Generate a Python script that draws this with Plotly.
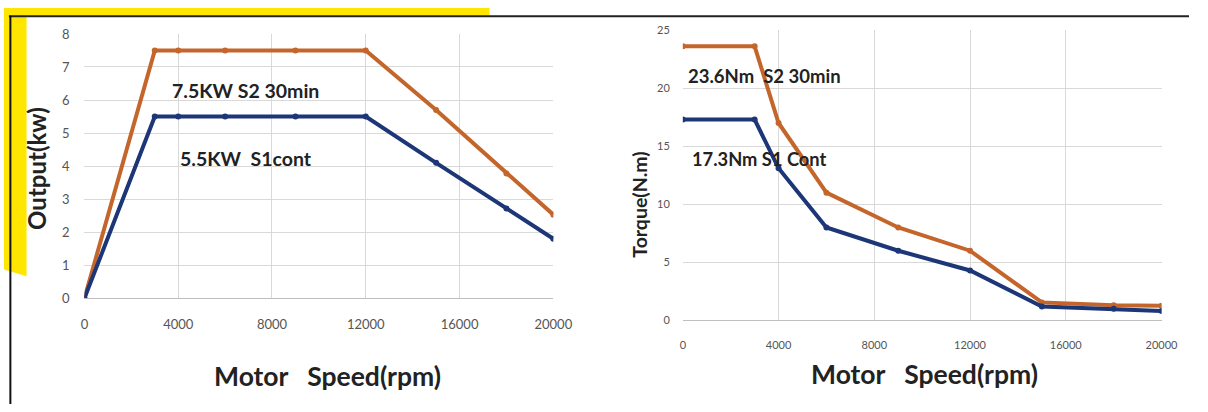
import plotly.graph_objects as go

W, H = 1208, 412

# ---- data ----
speed = [0, 3000, 4000, 6000, 9000, 12000, 15000, 18000, 20000]
output_s2 = [0, 7.5, 7.5, 7.5, 7.5, 7.5, 5.7, 3.78, 2.53]
output_s1 = [0, 5.5, 5.5, 5.5, 5.5, 5.5, 4.1, 2.72, 1.8]
torque_speed = [0, 3000, 4000, 6000, 9000, 12000, 15000, 18000, 20000]
torque_s2 = [23.6, 23.6, 17.0, 11.0, 8.0, 6.0, 1.55, 1.3, 1.25]
torque_s1 = [17.3, 17.3, 13.1, 8.0, 6.0, 4.3, 1.2, 1.0, 0.8]
x_ticks = [0, 4000, 8000, 12000, 16000, 20000]
x_tick_text = ["0", "4000", "8000", "12000", "16000", "20000"]
out_ticks = [0, 1, 2, 3, 4, 5, 6, 7, 8]
torque_ticks = [0, 5, 10, 15, 20, 25]

ORANGE = "#c4662c"
BLUE = "#1d3678"
FONT = "Lato"


def px(x):
    return x / W


def py(y):
    return 1 - y / H


fig = go.Figure()

marker = dict(size=6, symbol="circle")
fig.add_trace(go.Scatter(x=speed, y=output_s2, mode="lines+markers", line=dict(color=ORANGE, width=4),
                         marker=dict(color=ORANGE, **marker), xaxis="x", yaxis="y", showlegend=False))
fig.add_trace(go.Scatter(x=speed, y=output_s1, mode="lines+markers", line=dict(color=BLUE, width=4),
                         marker=dict(color=BLUE, **marker), xaxis="x", yaxis="y", showlegend=False))
fig.add_trace(go.Scatter(x=torque_speed, y=torque_s2, mode="lines+markers", line=dict(color=ORANGE, width=4),
                         marker=dict(color=ORANGE, **marker), xaxis="x2", yaxis="y2", showlegend=False))
fig.add_trace(go.Scatter(x=torque_speed, y=torque_s1, mode="lines+markers", line=dict(color=BLUE, width=4),
                         marker=dict(color=BLUE, **marker), xaxis="x2", yaxis="y2", showlegend=False))

grid = "#d9d9d9"
tf_left = dict(family=FONT, size=13, color="#555555")
tf_right = dict(family=FONT, size=11, color="#555555")
axis_common = dict(showgrid=True, gridcolor=grid, gridwidth=1, zeroline=False, ticks="")

fig.update_layout(
    width=W, height=H,
    margin=dict(l=0, r=0, t=0, b=0),
    paper_bgcolor="white", plot_bgcolor="white",
    font=dict(family=FONT),
    xaxis=dict(domain=[px(82), px(560)], range=[0, 20000], tickvals=x_ticks, ticktext=x_tick_text,
               anchor="y", ticklabelstandoff=14, tickfont=tf_left, showline=True, linecolor="#bfbfbf",
               **axis_common),
    yaxis=dict(domain=[py(302), py(27)], range=[0, 8], tickvals=out_ticks, anchor="x",
               ticklabelstandoff=14, tickfont=tf_left, showline=False, **axis_common),
    xaxis2=dict(domain=[px(692), px(1180)], range=[0, 20000], tickvals=x_ticks, ticktext=x_tick_text,
                anchor="y2", ticklabelstandoff=14, tickfont=tf_right, showline=True, linecolor="#bfbfbf",
                **axis_common),
    yaxis2=dict(domain=[py(325), py(23)], range=[0, 25], tickvals=torque_ticks, anchor="x2",
                ticklabelstandoff=12, tickfont=tf_right, showline=False, **axis_common),
)

shapes = []
# yellow decorations
shapes.append(dict(type="rect", xref="paper", yref="paper", x0=0, x1=px(495), y0=py(8), y1=1,
                   fillcolor="#ffe600", line=dict(width=0), layer="below"))
left_band = f"M {px(0)} {py(0)} L {px(23)} {py(0)} L {px(23)} {py(279)} L {px(0)} {py(272)} Z"
shapes.append(dict(type="path", xref="paper", yref="paper", path=left_band,
                   fillcolor="#ffe600", line=dict(width=0), layer="below"))
# black frame lines
shapes.append(dict(type="line", xref="paper", yref="paper", x0=px(5), x1=1, y0=py(8.5), y1=py(8.5),
                   line=dict(color="#222222", width=2)))
shapes.append(dict(type="line", xref="paper", yref="paper", x0=px(6.5), x1=px(6.5), y0=py(8), y1=0,
                   line=dict(color="#111111", width=2)))
fig.update_layout(shapes=shapes)

ann = []
txt = dict(family=FONT, color="#222222")


def add_text(text, x, y, size, angle=0):
    ann.append(dict(text=text, x=px(x), y=py(y), xref="paper", yref="paper", showarrow=False,
                    xanchor="center", yanchor="middle", textangle=angle, font=dict(size=size, **txt)))


add_text("<b>7.5KW S2 30min</b>", 246, 86, 19.5)
add_text("<b>5.5KW\u00a0 S1cont</b>", 247, 157, 19.5)
add_text("<b>23.6Nm\u00a0 S2 30min</b>", 775, 71, 18.5)
add_text("<b>17.3Nm S1 Cont</b>", 770, 157, 18.3)
add_text("<b>Output(kw)</b>", 33, 167, 24, -90)
add_text("<b>Torque(N.m)</b>", 647, 205, 19.5, -90)
add_text("<b>Motor\u00a0\u00a0 Speed(rpm)</b>", 330, 383, 26.5)
add_text("<b>Motor\u00a0\u00a0 Speed(rpm)</b>", 938, 381, 26.5)
fig.update_layout(annotations=ann)

fig.write_html(
    "out.html",
    config={"displayModeBar": False},
    post_script="document.documentElement.style.margin='0px';document.body.style.margin='0px';"
                "document.body.style.padding='0px';document.body.style.overflow='hidden';",
)
